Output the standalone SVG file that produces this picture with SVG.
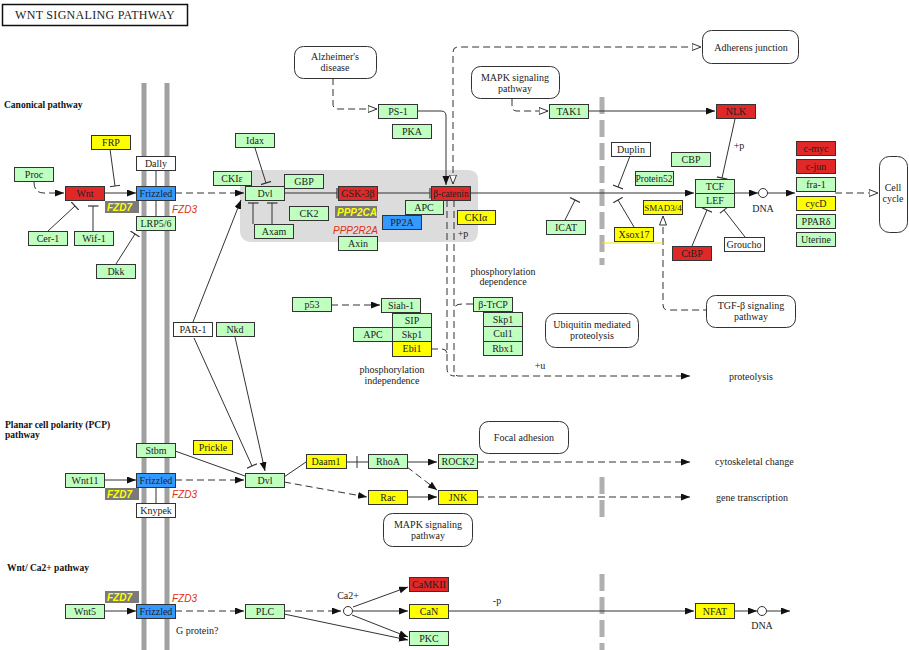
<svg xmlns="http://www.w3.org/2000/svg" width="909" height="650" viewBox="0 0 909 650">
<style>
.g{fill:#bfffbf;stroke:#333;stroke-width:1}
.r{fill:#e02828;stroke:#333;stroke-width:1}
.y{fill:#ffff00;stroke:#333;stroke-width:1}
.b{fill:#3399ff;stroke:#333;stroke-width:1}
.w{fill:#fff;stroke:#333;stroke-width:1}
.map{fill:#fff;stroke:#333;stroke-width:1}
.t{font-family:"Liberation Serif","DejaVu Serif",serif;font-size:10px;text-anchor:middle;fill:#222}
.tl{font-family:"Liberation Serif","DejaVu Serif",serif;font-size:10px;fill:#222}
.sec{font-family:"Liberation Serif","DejaVu Serif",serif;font-size:9.5px;font-weight:bold;fill:#111}
.lab{font-family:"Liberation Sans",Arial,sans-serif;font-size:10px;font-style:italic;font-weight:bold;fill:#ffff00}
.red{font-family:"Liberation Sans",Arial,sans-serif;font-size:10px;font-style:italic;fill:#e03010}
.ln{fill:none;stroke:#333;stroke-width:1}
.ds{fill:none;stroke:#333;stroke-width:1;stroke-dasharray:7 4}
.mem{stroke:#a0a0a0;stroke-width:5}
.gbar{stroke:#b0b0b0;stroke-width:5;stroke-dasharray:17 6}
</style>
<defs>
<marker id="a" markerUnits="userSpaceOnUse" markerWidth="10" markerHeight="8" refX="9" refY="3.5" orient="auto"><path d="M0,0 L9,3.5 L0,7 z" fill="#111"/></marker>
<marker id="o" markerUnits="userSpaceOnUse" markerWidth="11" markerHeight="9" refX="9.5" refY="4" orient="auto-start-reverse"><path d="M0.5,0.5 L9.5,4 L0.5,7.5 z" fill="#fff" stroke="#333"/></marker>
<marker id="t" markerUnits="userSpaceOnUse" markerWidth="3" markerHeight="11" refX="1.5" refY="5.5" orient="auto"><path d="M1.5,0 L1.5,11" stroke="#333" stroke-width="1.2"/></marker>
</defs>
<rect width="909" height="650" fill="#fff"/>

<g id="title">
<rect x="2.5" y="4.5" width="185" height="21" fill="#fff" stroke="#111" stroke-width="1.5"/>
<text x="95" y="19" class="t" style="font-size:12px;letter-spacing:0.3px">WNT SIGNALING PATHWAY</text>
</g>
<g id="sections">
<text x="4" y="108" class="sec">Canonical pathway</text>
<text x="5" y="428" class="sec">Planar cell polarity (PCP)</text>
<text x="5" y="438" class="sec">pathway</text>
<text x="7" y="571" class="sec">Wnt/ Ca2+ pathway</text>
</g>

<g id="background">
<path d="M252,170 L468,170 Q478,170 478,180 L478,232 Q478,242 468,242 L252,242 Q240,242 240,230 L240,182 Q240,170 252,170 Z" fill="#dcdcdc"/>
<line x1="144" y1="83" x2="144" y2="650" class="mem"/>
<line x1="167" y1="83" x2="167" y2="650" class="mem"/>
<line x1="602" y1="97" x2="602" y2="265" class="gbar"/>
<line x1="602" y1="477" x2="602" y2="518" class="gbar"/>
<line x1="602" y1="574" x2="602" y2="650" class="gbar"/>
</g>

<g id="connectors">
<path d="M34,182 Q34,193 44,193 L64,193" class="ds" marker-end="url(#a)"/>
<path d="M104,193 L136,193" class="ln" marker-end="url(#a)"/>
<path d="M110,149 L115,186" class="ln" marker-end="url(#t)"/>
<path d="M48,231 L75,206" class="ln" marker-end="url(#t)"/>
<path d="M93,231 L93,206" class="ln" marker-end="url(#t)"/>
<path d="M116,264 L135,234" class="ln" marker-end="url(#t)"/>
<path d="M156,170 L156,186 M156,200 L156,216 M156,487 L156,503" class="ln"/>
<path d="M175,193 L244,193" class="ds" marker-end="url(#a)"/>
<path d="M255,148 L266,183" class="ln" marker-end="url(#t)"/>
<path d="M284,193 L337,193" class="ln" marker-end="url(#t)"/>
<path d="M377,193 L430,193" class="ln" marker-end="url(#t)"/>
<path d="M253,224 L253,203" class="ln" marker-end="url(#t)"/>
<path d="M272,224 L272,203" class="ln" marker-end="url(#t)"/>
<path d="M417,111 L441,111 Q446,111 446,116 L446,185" class="ln" marker-end="url(#a)"/>
<path d="M333,78 L333,104 Q333,109 338,109 L377,109" class="ds" marker-end="url(#o)"/>
<path d="M453,184 L453,52 Q453,47 458,47 L701,47" class="ds" marker-start="url(#o)" marker-end="url(#o)"/>
<path d="M470,193 L694,193" class="ln" marker-end="url(#a)"/>
<path d="M512,99 L512,106 Q512,111 517,111 L548,111" class="ds" marker-end="url(#o)"/>
<path d="M588,111 L715,111" class="ln" marker-end="url(#a)"/>
<path d="M735,119 L722,178" class="ln" marker-end="url(#t)"/>
<path d="M734,193 L758,193" class="ln" marker-end="url(#a)"/>
<circle cx="763" cy="193" r="4.5" fill="#fff" stroke="#333"/>
<path d="M767.5,193 L795,193" class="ln" marker-end="url(#a)"/>
<path d="M835,193 L878,193" class="ds" marker-end="url(#o)"/>
<path d="M630,156 L618,187" class="ln" marker-end="url(#t)"/>
<path d="M565,220 L575,200" class="ln" marker-end="url(#t)"/>
<path d="M634,227 L618,200" class="ln" marker-end="url(#t)"/>
<path d="M692,246 L707,210" class="ln" marker-end="url(#t)"/>
<path d="M745,237 L724,210" class="ln" marker-end="url(#t)"/>
<path d="M663,216 L663,305 Q663,310 668,310 L706,310" class="ds" marker-start="url(#o)"/>
<path d="M602,243 L663,243" stroke="#e8e800" stroke-width="1"/>
<path d="M331,305 L380,305" class="ds" marker-end="url(#a)"/>
<path d="M431,349 L442,349 Q447,349 447,354" class="ds"/>
<path d="M447,200 L447,368 Q447,376 455,376" class="ds"/>
<path d="M454,200 L454,371 Q454,376 459,376 L690,376" class="ds" marker-end="url(#a)"/>
<path d="M473,304 L462,304 Q454,304 454,310" class="ds"/>
<path d="M193,322 L241,200" class="ln" marker-end="url(#a)"/>
<path d="M194,338 L252,466" class="ln" marker-end="url(#t)"/>
<path d="M235,337 L265,471" class="ln" marker-end="url(#a)"/>

<path d="M104,480 L136,480" class="ln" marker-end="url(#a)"/>
<path d="M175,480 L244,480" class="ds" marker-end="url(#a)"/>
<path d="M175,451 L245,476" class="ln"/>
<path d="M284,477 L306,462" class="ln"/>
<path d="M346,462 L368,462 M357,456 L357,468" class="ln"/>
<path d="M407,462 L437,462" class="ln" marker-end="url(#a)"/>
<path d="M407,467 L437,490" class="ds" marker-end="url(#a)"/>
<path d="M284,482 L367,497" class="ds" marker-end="url(#a)"/>
<path d="M407,497 L437,497" class="ln" marker-end="url(#a)"/>
<path d="M477,462 L690,462" class="ds" marker-end="url(#a)"/>
<path d="M477,497 L690,497" class="ds" marker-end="url(#a)"/>

<path d="M104,611 L136,611" class="ln" marker-end="url(#a)"/>
<path d="M175,611 L244,611" class="ds" marker-end="url(#a)"/>
<path d="M284,611 L341,611" class="ds" marker-end="url(#a)"/>
<circle cx="348" cy="611" r="4.5" fill="#fff" stroke="#333"/>
<path d="M284,614 L408,640" class="ln" marker-end="url(#a)"/>
<path d="M353,607 L408,587" class="ln" marker-end="url(#a)"/>
<path d="M353,611 L408,611" class="ln" marker-end="url(#a)"/>
<path d="M352,615 L408,637" class="ln" marker-end="url(#a)"/>
<path d="M448,611 L694,611" class="ln" stroke="#666" marker-end="url(#a)"/>
<path d="M734,611 L757,611" class="ln" marker-end="url(#a)"/>
<circle cx="762" cy="611" r="4.5" fill="#fff" stroke="#333"/>
<path d="M766.5,611 L790,611" class="ln" marker-end="url(#a)"/>
</g>

<g id="n-proc"><rect x="14.5" y="167.5" width="39" height="14" class="g"/><text x="34" y="178" class="t">Proc</text></g>
<g id="n-wnt"><rect x="65.5" y="186.5" width="39" height="14" class="r"/><text x="85" y="197" class="t">Wnt</text></g>
<g id="n-frp"><rect x="91.5" y="135.5" width="39" height="14" class="y"/><text x="111" y="146" class="t">FRP</text></g>
<g id="n-dally"><rect x="136.5" y="156.5" width="39" height="14" class="w"/><text x="156" y="167" class="t">Dally</text></g>
<g id="n-frizzled1"><rect x="136.5" y="186.5" width="39" height="14" class="b"/><text x="156" y="197" class="t">Frizzled</text></g>
<g id="n-fzd7a"><rect x="105" y="201" width="34" height="12" fill="#7a7a7a"/><text x="107" y="211" class="lab">FZD7</text><text x="172" y="213" class="red">FZD3</text></g>
<g id="n-lrp"><rect x="136.5" y="216.5" width="39" height="14" class="g"/><text x="156" y="227" class="t">LRP5/6</text></g>
<g id="n-cer1"><rect x="28.5" y="231.5" width="39" height="14" class="g"/><text x="48" y="242" class="t">Cer-1</text></g>
<g id="n-wif1"><rect x="74.5" y="231.5" width="39" height="14" class="g"/><text x="94" y="242" class="t">Wif-1</text></g>
<g id="n-dkk"><rect x="96.5" y="264.5" width="39" height="14" class="g"/><text x="116" y="275" class="t">Dkk</text></g>
<g id="n-ckie"><rect x="213.5" y="171.5" width="38" height="14" class="g"/><text x="232" y="182" class="t">CKIε</text></g>
<g id="n-idax"><rect x="235.5" y="133.5" width="39" height="14" class="g"/><text x="255" y="144" class="t">Idax</text></g>
<g id="n-dvl1"><rect x="245.5" y="186.5" width="39" height="14" class="g"/><text x="265" y="197" class="t">Dvl</text></g>
<g id="n-gbp"><rect x="284.5" y="174.5" width="39" height="14" class="g"/><text x="304" y="185" class="t">GBP</text></g>
<g id="n-ck2"><rect x="289.5" y="206.5" width="39" height="14" class="g"/><text x="309" y="217" class="t">CK2</text></g>
<g id="n-axam"><rect x="254.5" y="224.5" width="39" height="14" class="g"/><text x="274" y="235" class="t">Axam</text></g>
<g id="n-gsk"><rect x="338.5" y="186.5" width="39" height="14" class="r"/><text x="358" y="197" class="t">GSK-3β</text></g>
<g id="n-ppp2ca"><rect x="335" y="206" width="42" height="12" fill="#7a7a7a"/><text x="337" y="216" class="lab">PPP2CA</text></g>
<g id="n-pp2a"><rect x="382.5" y="215.5" width="39" height="14" class="b"/><text x="402" y="226" class="t">PP2A</text></g>
<g id="n-ppp2r2a"><text x="333" y="234" class="red">PPP2R2A</text></g>
<g id="n-axin"><rect x="338.5" y="236.5" width="39" height="14" class="g"/><text x="358" y="247" class="t">Axin</text></g>
<g id="n-apc1"><rect x="405.5" y="200.5" width="38" height="14" class="g"/><text x="424" y="211" class="t">APC</text></g>
<g id="n-bcat"><rect x="431.5" y="186.5" width="39" height="14" class="r"/><text x="451" y="197" class="t" style="font-size:9.5px">β-catenin</text></g>
<g id="n-ckia"><rect x="457.5" y="210.5" width="38" height="14" class="y"/><text x="476" y="221" class="t">CKIα</text><text x="463" y="237" class="t">+p</text></g>
<g id="n-ps1"><rect x="378.5" y="104.5" width="39" height="14" class="g"/><text x="398" y="115" class="t">PS-1</text></g>
<g id="n-pka"><rect x="392.5" y="124.5" width="39" height="14" class="g"/><text x="412" y="135" class="t">PKA</text></g>
<g id="n-alz"><rect x="294.5" y="46.5" width="82" height="32" rx="9" class="map"/><text x="335" y="60" class="t">Alzheimer's</text><text x="335" y="71" class="t">disease</text></g>
<g id="n-mapk1"><rect x="471.5" y="66.5" width="88" height="32" rx="9" class="map"/><text x="515" y="81" class="t">MAPK signaling</text><text x="515" y="92" class="t">pathway</text></g>
<g id="n-tak1"><rect x="549.5" y="104.5" width="39" height="14" class="g"/><text x="569" y="115" class="t">TAK1</text></g>
<g id="n-adherens"><rect x="702.5" y="30.5" width="96" height="33" rx="9" class="map"/><text x="751" y="51" class="t">Adherens junction</text></g>
<g id="n-nlk"><rect x="716.5" y="104.5" width="39" height="14" class="r"/><text x="736" y="115" class="t">NLK</text><text x="739" y="149" class="t">+p</text></g>
<g id="n-duplin"><rect x="611.5" y="142.5" width="39" height="14" class="w"/><text x="631" y="153" class="t">Duplin</text></g>
<g id="n-protein52"><rect x="635.5" y="171.5" width="38" height="14" class="g"/><text x="654" y="182" class="t" style="font-size:9.5px">Protein52</text></g>
<g id="n-cbp"><rect x="671.5" y="152.5" width="39" height="14" class="g"/><text x="691" y="163" class="t">CBP</text></g>
<g id="n-tcf"><rect x="695.5" y="179.5" width="39" height="14" class="g"/><text x="715" y="190" class="t">TCF</text></g>
<g id="n-lef"><rect x="695.5" y="193.5" width="39" height="14" class="g"/><text x="715" y="204" class="t">LEF</text><text x="763" y="212" class="t">DNA</text></g>
<g id="n-smad"><rect x="643.5" y="200.5" width="39" height="14" class="y"/><text x="663" y="211" class="t" style="font-size:9px">SMAD3/4</text></g>
<g id="n-icat"><rect x="546.5" y="220.5" width="39" height="14" class="g"/><text x="566" y="231" class="t">ICAT</text></g>
<g id="n-xsox17"><rect x="614.5" y="227.5" width="39" height="14" class="y"/><text x="634" y="238" class="t">Xsox17</text></g>
<g id="n-ctbp"><rect x="672.5" y="246.5" width="39" height="14" class="r"/><text x="692" y="257" class="t">CtBP</text></g>
<g id="n-groucho"><rect x="724.5" y="237.5" width="40" height="14" class="w"/><text x="744" y="248" class="t">Groucho</text></g>
<g id="n-cmyc"><rect x="796.5" y="141.5" width="39" height="14" class="r"/><text x="816" y="152" class="t">c-myc</text></g>
<g id="n-cjun"><rect x="796.5" y="159.5" width="39" height="14" class="r"/><text x="816" y="170" class="t">c-jun</text></g>
<g id="n-fra1"><rect x="796.5" y="177.5" width="39" height="14" class="g"/><text x="816" y="188" class="t">fra-1</text></g>
<g id="n-cycd"><rect x="796.5" y="196.5" width="39" height="14" class="y"/><text x="816" y="207" class="t">cycD</text></g>
<g id="n-ppard"><rect x="796.5" y="214.5" width="39" height="14" class="g"/><text x="816" y="225" class="t">PPARδ</text></g>
<g id="n-uterine"><rect x="796.5" y="232.5" width="39" height="14" class="g"/><text x="816" y="243" class="t">Uterine</text></g>
<g id="n-cellcycle"><rect x="879.5" y="156.5" width="28" height="76" rx="10" class="map"/><text x="893" y="191" class="t">Cell</text><text x="893" y="202" class="t">cycle</text></g>
<g id="n-tgf"><rect x="706.5" y="295.5" width="89" height="32" rx="9" class="map"/><text x="751" y="309" class="t">TGF-β signaling</text><text x="751" y="320" class="t">pathway</text></g>
<g id="n-p53"><rect x="292.5" y="297.5" width="39" height="14" class="g"/><text x="312" y="308" class="t">p53</text></g>
<g id="n-siah1"><rect x="381.5" y="298.5" width="39" height="14" class="g"/><text x="401" y="309" class="t">Siah-1</text></g>
<g id="n-sip"><rect x="392.5" y="313.5" width="39" height="14" class="g"/><text x="412" y="324" class="t">SIP</text></g>
<g id="n-skp1a"><rect x="392.5" y="327.5" width="39" height="14" class="g"/><text x="412" y="338" class="t">Skp1</text></g>
<g id="n-apc2"><rect x="353.5" y="327.5" width="39" height="14" class="g"/><text x="373" y="338" class="t">APC</text></g>
<g id="n-ebi1"><rect x="392.5" y="341.5" width="39" height="15" class="y"/><text x="412" y="352" class="t">Ebi1</text></g>
<g id="n-phosind"><text x="392" y="373" class="t">phosphorylation</text><text x="392" y="384" class="t">independence</text></g>
<g id="n-phosdep"><text x="503" y="275" class="t">phosphorylation</text><text x="503" y="285" class="t">dependence</text></g>
<g id="n-btrcp"><rect x="473.5" y="297.5" width="39" height="14" class="g"/><text x="493" y="308" class="t">β-TrCP</text></g>
<g id="n-skp1b"><rect x="483.5" y="312.5" width="39" height="14" class="g"/><text x="503" y="323" class="t">Skp1</text></g>
<g id="n-cul1"><rect x="483.5" y="326.5" width="39" height="15" class="g"/><text x="503" y="337" class="t">Cul1</text></g>
<g id="n-rbx1"><rect x="483.5" y="341.5" width="39" height="14" class="g"/><text x="503" y="352" class="t">Rbx1</text></g>
<g id="n-ubiq"><rect x="545.5" y="313.5" width="93" height="34" rx="10" class="map"/><text x="592" y="328" class="t">Ubiquitin mediated</text><text x="592" y="339" class="t">proteolysis</text></g>
<g id="n-proteolysis"><text x="540" y="369" class="t">+u</text><text x="729" y="380" class="tl">proteolysis</text></g>
<g id="n-par1"><rect x="173.5" y="322.5" width="39" height="14" class="w"/><text x="193" y="333" class="t">PAR-1</text></g>
<g id="n-nkd"><rect x="216.5" y="322.5" width="38" height="14" class="g"/><text x="235" y="333" class="t">Nkd</text></g>

<g id="n-stbm"><rect x="136.5" y="443.5" width="39" height="14" class="g"/><text x="156" y="454" class="t">Stbm</text></g>
<g id="n-prickle"><rect x="193.5" y="440.5" width="39" height="14" class="y"/><text x="213" y="451" class="t">Prickle</text></g>
<g id="n-wnt11"><rect x="65.5" y="473.5" width="39" height="14" class="g"/><text x="85" y="484" class="t">Wnt11</text></g>
<g id="n-frizzled2"><rect x="136.5" y="473.5" width="39" height="14" class="b"/><text x="156" y="484" class="t">Frizzled</text></g>
<g id="n-fzd7b"><rect x="105" y="488" width="34" height="12" fill="#7a7a7a"/><text x="107" y="498" class="lab">FZD7</text><text x="172" y="498" class="red">FZD3</text></g>
<g id="n-knypek"><rect x="136.5" y="503.5" width="39" height="14" class="w"/><text x="156" y="514" class="t">Knypek</text></g>
<g id="n-dvl2"><rect x="245.5" y="473.5" width="39" height="14" class="g"/><text x="265" y="484" class="t">Dvl</text></g>
<g id="n-daam1"><rect x="306.5" y="454.5" width="40" height="14" class="y"/><text x="326" y="465" class="t">Daam1</text></g>
<g id="n-rhoa"><rect x="368.5" y="454.5" width="39" height="14" class="g"/><text x="388" y="465" class="t">RhoA</text></g>
<g id="n-rock2"><rect x="438.5" y="454.5" width="39" height="14" class="g"/><text x="458" y="465" class="t">ROCK2</text></g>
<g id="n-rac"><rect x="368.5" y="490.5" width="39" height="14" class="y"/><text x="388" y="501" class="t">Rac</text></g>
<g id="n-jnk"><rect x="438.5" y="490.5" width="39" height="14" class="y"/><text x="458" y="501" class="t">JNK</text></g>
<g id="n-focal"><rect x="479.5" y="421.5" width="89" height="32" rx="9" class="map"/><text x="524" y="441" class="t">Focal adhesion</text></g>
<g id="n-mapk2"><rect x="383.5" y="513.5" width="89" height="33" rx="9" class="map"/><text x="428" y="528" class="t">MAPK signaling</text><text x="428" y="539" class="t">pathway</text></g>
<g id="n-outputs"><text x="715" y="465" class="tl">cytoskeletal change</text><text x="716" y="501" class="tl">gene transcription</text></g>

<g id="n-fzd7c"><rect x="105" y="591" width="34" height="12" fill="#7a7a7a"/><text x="107" y="601" class="lab">FZD7</text><text x="172" y="602" class="red">FZD3</text></g>
<g id="n-wnt5"><rect x="65.5" y="604.5" width="39" height="14" class="g"/><text x="85" y="615" class="t">Wnt5</text></g>
<g id="n-frizzled3"><rect x="136.5" y="604.5" width="39" height="14" class="b"/><text x="156" y="615" class="t">Frizzled</text><text x="176" y="634" class="tl">G protein?</text></g>
<g id="n-plc"><rect x="245.5" y="604.5" width="39" height="14" class="g"/><text x="265" y="615" class="t">PLC</text></g>
<g id="n-ca"><text x="348" y="599" class="t">Ca2+</text></g>
<g id="n-camkii"><rect x="409.5" y="577.5" width="39" height="14" class="r"/><text x="429" y="588" class="t">CaMKII</text></g>
<g id="n-can"><rect x="409.5" y="604.5" width="39" height="14" class="y"/><text x="429" y="615" class="t">CaN</text><text x="497" y="604" class="t">-p</text></g>
<g id="n-pkc"><rect x="409.5" y="631.5" width="39" height="14" class="g"/><text x="429" y="642" class="t">PKC</text></g>
<g id="n-nfat"><rect x="695.5" y="603.5" width="39" height="15" class="y"/><text x="715" y="615" class="t">NFAT</text><text x="762" y="629" class="t">DNA</text></g>
</svg>
